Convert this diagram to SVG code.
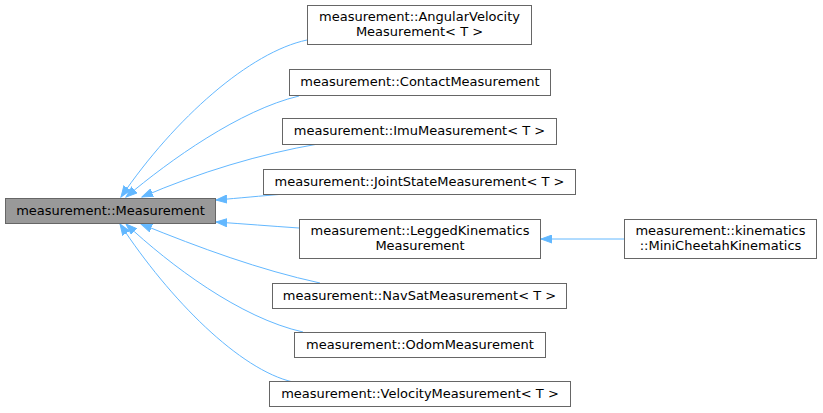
<svg xmlns="http://www.w3.org/2000/svg" width="823" height="413" viewBox="0 0 823 413">
<style>
.box{fill:#ffffff;stroke:#666666;stroke-width:1}
.base{fill:#999999;stroke:#666666;stroke-width:1}
text{font-family:"DejaVu Sans","Liberation Sans",sans-serif;font-size:13px;fill:#000000;text-anchor:middle}
.edge{fill:none;stroke:#63b8ff;stroke-width:1;marker-end:url(#arr)}
</style>
<defs>
<marker id="arr" markerUnits="userSpaceOnUse" markerWidth="12" markerHeight="9" viewBox="0 -4.5 12 9" refX="11" refY="0" orient="auto">
<path d="M0,-4 L11,0 L0,4 Z" fill="#63b8ff" stroke="#63b8ff" stroke-width="1"/>
</marker>
</defs>
<rect width="823" height="413" fill="#ffffff"/>
<g id="edges">
<path class="edge" d="M307,40 C250,52 175,118 121,197"/>
<path class="edge" d="M299,96 C240,110 170,160 126,197"/>
<path class="edge" d="M318,144 C260,154 200,172 142,197"/>
<path class="edge" d="M285,194 C260,196 240,198 216,200"/>
<path class="edge" d="M299,228 C270,226 245,224 216,222"/>
<path class="edge" d="M320,283 C260,270 200,248 141,224"/>
<path class="edge" d="M303,332 C240,318 170,265 126,224"/>
<path class="edge" d="M293,382 C240,370 170,300 120,224"/>
<path class="edge" d="M624,239 L541,239"/>
</g>
<g id="n_measurement">
<rect class="base" x="5.5" y="198.5" width="210" height="25"/>
<text x="110.5" y="214.5">measurement::Measurement</text>
</g>
<g id="n_angular">
<rect class="box" x="307.5" y="5.5" width="224" height="39"/>
<text x="419.5" y="21">measurement::AngularVelocity</text>
<text x="419.5" y="36">Measurement&lt; T &gt;</text>
</g>
<g id="n_contact">
<rect class="box" x="289.5" y="69.5" width="261" height="26"/>
<text x="420" y="86">measurement::ContactMeasurement</text>
</g>
<g id="n_imu">
<rect class="box" x="282.5" y="118.5" width="274" height="26"/>
<text x="419.5" y="135">measurement::ImuMeasurement&lt; T &gt;</text>
</g>
<g id="n_joint">
<rect class="box" x="263.5" y="169.5" width="312" height="25"/>
<text x="419.5" y="185.5">measurement::JointStateMeasurement&lt; T &gt;</text>
</g>
<g id="n_legged">
<rect class="box" x="299.5" y="219.5" width="241" height="39"/>
<text x="420" y="235">measurement::LeggedKinematics</text>
<text x="420" y="250">Measurement</text>
</g>
<g id="n_navsat">
<rect class="box" x="272.5" y="283.5" width="294" height="25"/>
<text x="419.5" y="299.5">measurement::NavSatMeasurement&lt; T &gt;</text>
</g>
<g id="n_odom">
<rect class="box" x="294.5" y="332.5" width="251" height="25"/>
<text x="420" y="348.5">measurement::OdomMeasurement</text>
</g>
<g id="n_velocity">
<rect class="box" x="269.5" y="381.5" width="301" height="25"/>
<text x="420" y="397.5">measurement::VelocityMeasurement&lt; T &gt;</text>
</g>
<g id="n_minicheetah">
<rect class="box" x="624.5" y="219.5" width="192" height="39"/>
<text x="720.5" y="235">measurement::kinematics</text>
<text x="720.5" y="250">::MiniCheetahKinematics</text>
</g>
</svg>
